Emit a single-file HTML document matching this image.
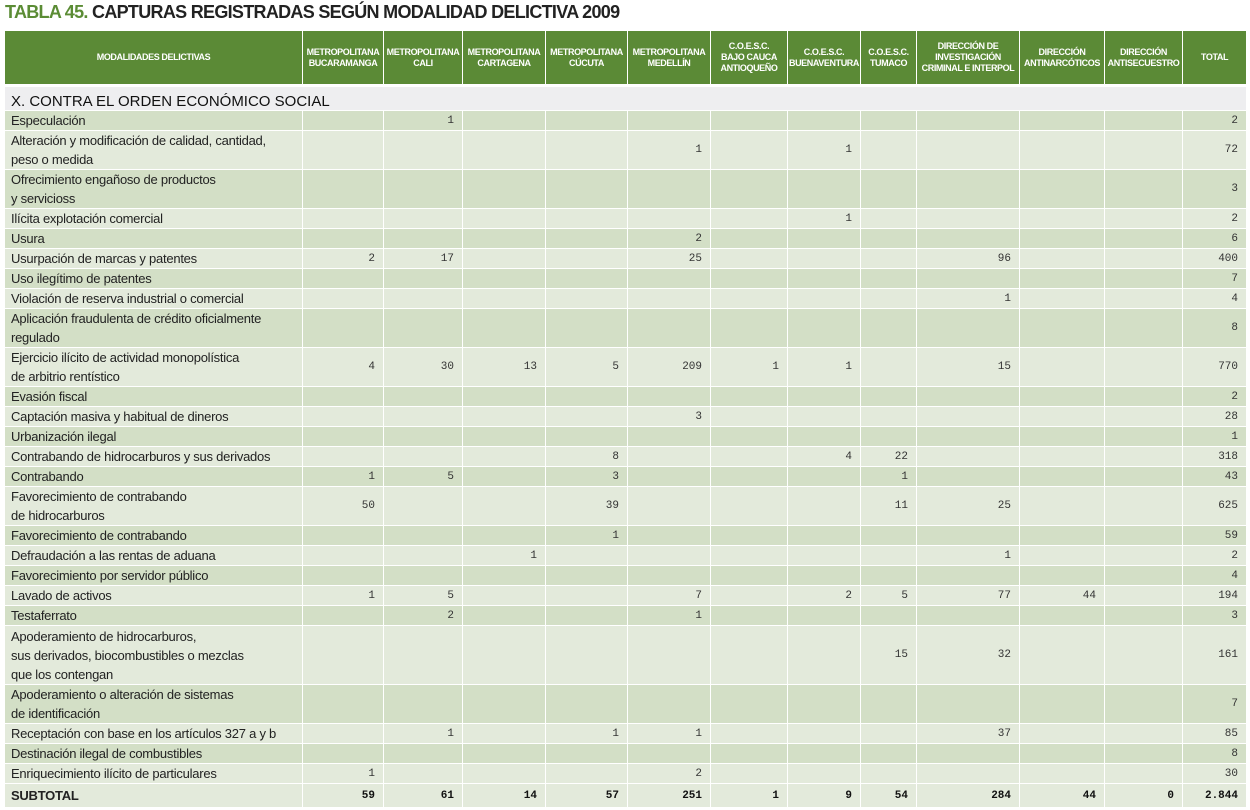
<!DOCTYPE html>
<html><head><meta charset="utf-8">
<style>
body{margin:0;width:1250px;height:810px;background:#fff;font-family:"Liberation Sans",sans-serif;overflow:hidden;position:relative}
#title{position:absolute;left:5px;top:2px;font-size:18px;font-weight:bold;color:#222;letter-spacing:-0.7px;white-space:nowrap}
#title span{color:#5b8c35}
table{position:absolute;left:4px;top:30px;border-collapse:collapse;table-layout:fixed;width:1242px}
td,th{border:1px solid #fff;padding:0;overflow:hidden}
th{background:#5b8a36;color:#fff;font-size:9px;font-weight:bold;letter-spacing:-0.4px;line-height:11px;height:53px;text-align:center}
td.l{font-size:13px;letter-spacing:-0.25px;color:#222;padding-left:6px;white-space:nowrap;line-height:19px}
td.n{font-family:"Liberation Mono",monospace;font-size:11px;text-align:right;padding-right:8px;color:#333}
tr.d td{background:#d3dfc6}
tr.w td{background:#e3eadb}
tr.sec td{background:#eeeef0;font-size:15px;color:#111;padding-left:6px;height:23px;border-top:3px solid #fff;vertical-align:bottom}
tr.sub td{background:#e3eadb;font-weight:bold;height:23px}
tr.sub td.n{font-size:11px;color:#111}
</style></head><body>
<div id="title"><span>TABLA 45.</span> CAPTURAS REGISTRADAS SEGÚN MODALIDAD DELICTIVA 2009</div>
<table id="t">
<colgroup><col style="width:298px"><col style="width:81px"><col style="width:79px"><col style="width:83px"><col style="width:82px"><col style="width:83px"><col style="width:77px"><col style="width:73px"><col style="width:56px"><col style="width:103px"><col style="width:85px"><col style="width:78px"><col style="width:64px"></colgroup>
<thead><tr>
<th>MODALIDADES DELICTIVAS</th>
<th>METROPOLITANA<br>BUCARAMANGA</th>
<th>METROPOLITANA<br>CALI</th>
<th>METROPOLITANA<br>CARTAGENA</th>
<th>METROPOLITANA<br>CÚCUTA</th>
<th>METROPOLITANA<br>MEDELLÍN</th>
<th>C.O.E.S.C.<br>BAJO CAUCA<br>ANTIOQUEÑO</th>
<th>C.O.E.S.C.<br>BUENAVENTURA</th>
<th>C.O.E.S.C.<br>TUMACO</th>
<th>DIRECCIÓN DE<br>INVESTIGACIÓN<br>CRIMINAL E INTERPOL</th>
<th>DIRECCIÓN<br>ANTINARCÓTICOS</th>
<th>DIRECCIÓN<br>ANTISECUESTRO</th>
<th>TOTAL</th>
</tr></thead>
<tbody id="tb">
<tr class="sec"><td colspan="13">X. CONTRA EL ORDEN ECONÓMICO SOCIAL</td></tr>
</tbody></table>
<script>
const labels=["Especulación","Alteración y modificación de calidad, cantidad,<br>peso o medida","Ofrecimiento engañoso de productos<br>y servicioss","Ilícita explotación comercial","Usura","Usurpación de marcas y patentes","Uso ilegítimo de patentes","Violación de reserva industrial o comercial","Aplicación fraudulenta de crédito oficialmente<br>regulado","Ejercicio ilícito de actividad monopolística<br>de arbitrio rentístico","Evasión fiscal","Captación masiva y habitual de dineros","Urbanización ilegal","Contrabando de hidrocarburos y sus derivados","Contrabando","Favorecimiento de contrabando<br>de hidrocarburos","Favorecimiento de contrabando","Defraudación a las rentas de aduana","Favorecimiento por servidor público","Lavado de activos","Testaferrato","Apoderamiento de hidrocarburos,<br>sus derivados, biocombustibles o mezclas<br>que los contengan","Apoderamiento o alteración de sistemas<br>de identificación","Receptación con base en los artículos 327 a y b","Destinación ilegal de combustibles","Enriquecimiento ilícito de particulares"];
const values=[
["","1","","","","","","","","","","2"],
["","","","","1","","1","","","","","72"],
["","","","","","","","","","","","3"],
["","","","","","","1","","","","","2"],
["","","","","2","","","","","","","6"],
["2","17","","","25","","","","96","","","400"],
["","","","","","","","","","","","7"],
["","","","","","","","","1","","","4"],
["","","","","","","","","","","","8"],
["4","30","13","5","209","1","1","","15","","","770"],
["","","","","","","","","","","","2"],
["","","","","3","","","","","","","28"],
["","","","","","","","","","","","1"],
["","","","8","","","4","22","","","","318"],
["1","5","","3","","","","1","","","","43"],
["50","","","39","","","","11","25","","","625"],
["","","","1","","","","","","","","59"],
["","","1","","","","","","1","","","2"],
["","","","","","","","","","","","4"],
["1","5","","","7","","2","5","77","44","","194"],
["","2","","","1","","","","","","","3"],
["","","","","","","","15","32","","","161"],
["","","","","","","","","","","","7"],
["","1","","1","1","","","","37","","","85"],
["","","","","","","","","","","","8"],
["1","","","","2","","","","","","","30"]];
const subtotal=["59","61","14","57","251","1","9","54","284","44","0","2.844"];
const tb=document.getElementById('tb');
labels.forEach((lab,i)=>{
  const tr=document.createElement('tr');
  tr.className=i%2?'w':'d';
  
  
  const lines=lab.split('<br>').length;
  const h=lines===1?19:(lines===2?38:58);
  const td=document.createElement('td');
  td.className='l';td.innerHTML=lab;td.style.height=h+'px';
  
  
  tr.appendChild(td);
  values[i].forEach(v=>{
    const c=document.createElement('td');c.className='n';c.textContent=v;
    
    
    tr.appendChild(c);
  });
  tb.appendChild(tr);
});
const sr=document.createElement('tr');sr.className='sub';


const sl=document.createElement('td');sl.className='l';sl.textContent='SUBTOTAL';


sr.appendChild(sl);
subtotal.forEach(v=>{
  const c=document.createElement('td');c.className='n';c.textContent=v;
  
  
  sr.appendChild(c);
});
tb.appendChild(sr);
</script>
</body></html>
